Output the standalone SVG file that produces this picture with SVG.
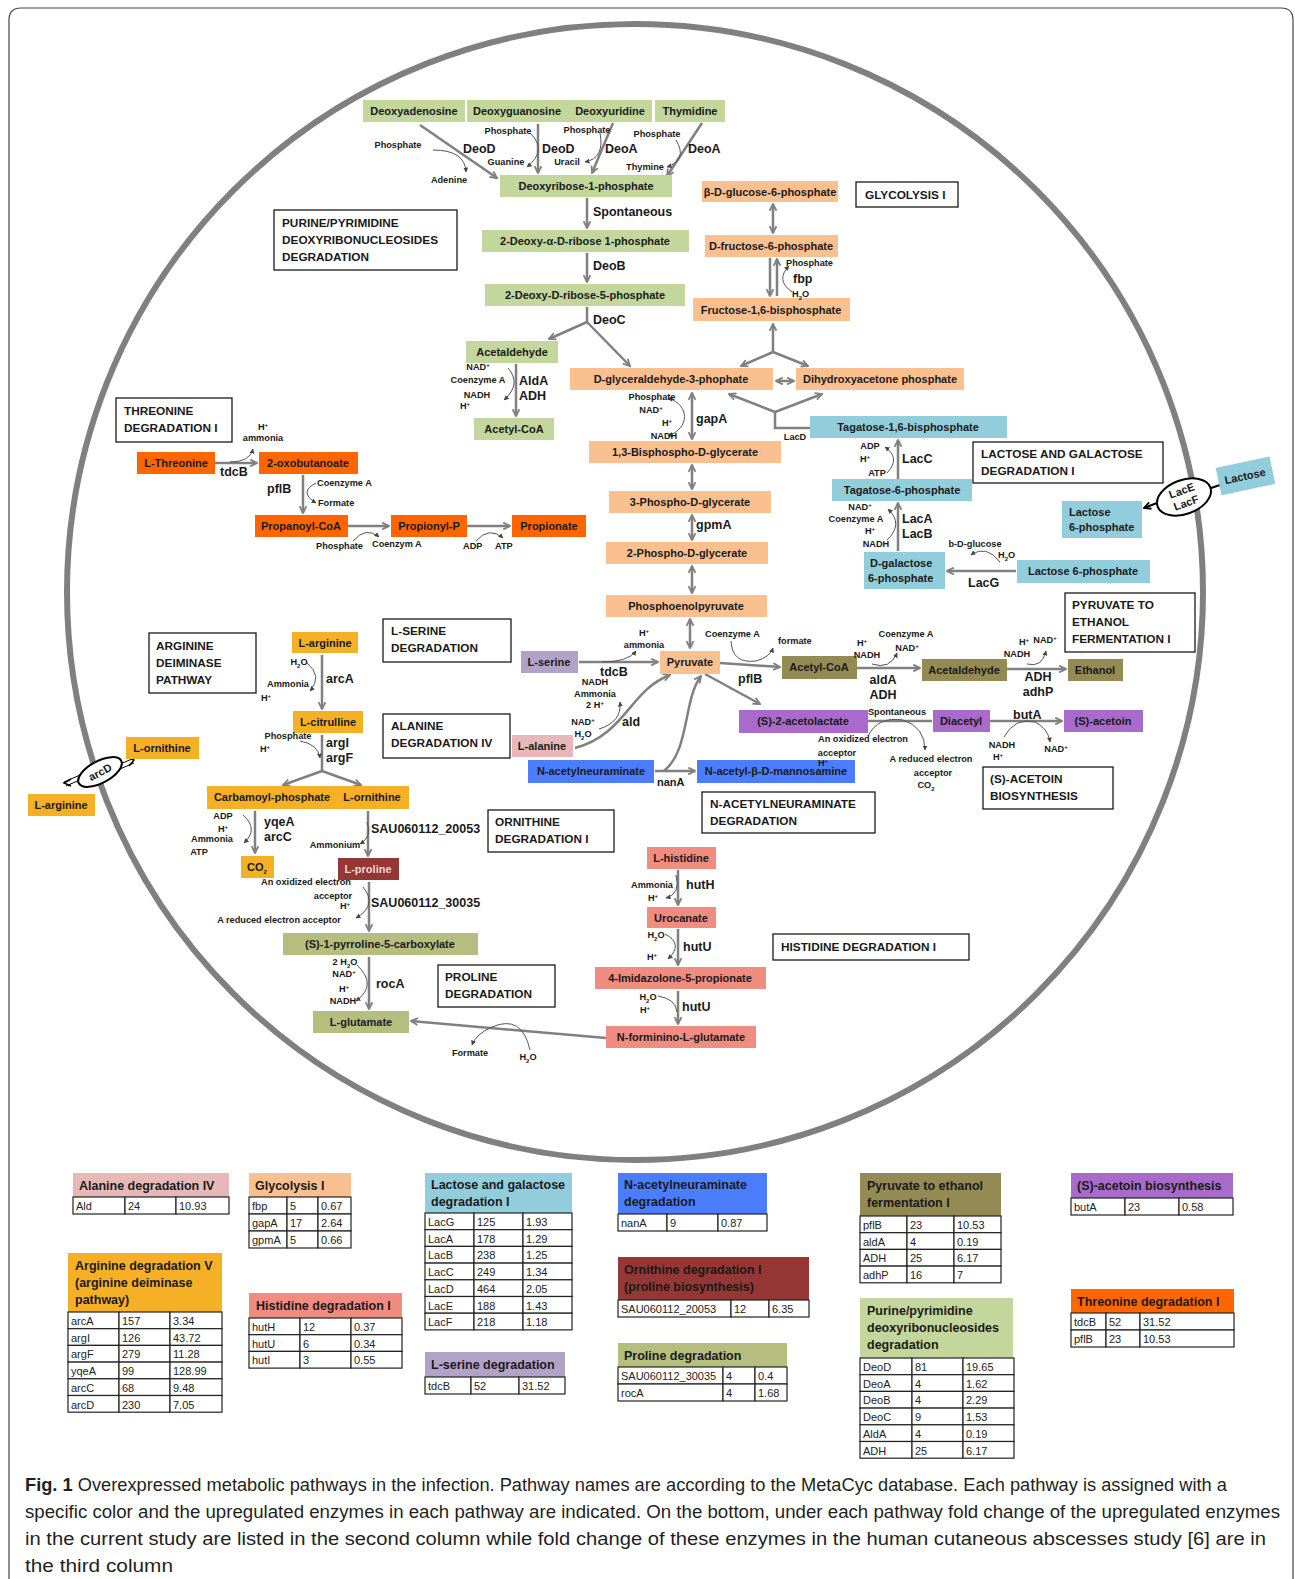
<svg xmlns="http://www.w3.org/2000/svg" width="1295" height="1579" viewBox="0 0 1295 1579">
<defs>
<marker id="a" viewBox="0 0 10 10" refX="8.5" refY="5" markerWidth="9" markerHeight="9" markerUnits="userSpaceOnUse" orient="auto-start-reverse"><path d="M1,1.2 L8.5,5 L1,8.8" fill="none" stroke="#808080" stroke-width="2"/></marker>
<marker id="s" viewBox="0 0 10 10" refX="9" refY="5" markerWidth="5" markerHeight="5" markerUnits="userSpaceOnUse" orient="auto-start-reverse"><path d="M0,0 L10,5 L0,10 z" fill="#444"/></marker>
<marker id="k" viewBox="0 0 10 10" refX="8.5" refY="5" markerWidth="9" markerHeight="9" markerUnits="userSpaceOnUse" orient="auto-start-reverse"><path d="M1,1.2 L8.5,5 L1,8.8" fill="none" stroke="#000" stroke-width="2"/></marker>
<style>
text{font-family:"Liberation Sans",Arial,sans-serif;fill:#1a1a1a}
.nt{font-weight:bold;font-size:11px;text-anchor:middle}
.nl{font-weight:bold;font-size:11px}
.en{font-weight:bold;font-size:12.5px}
.sm{font-weight:bold;font-size:9.2px;text-anchor:middle}
.sl{font-weight:bold;font-size:9.2px}
.pt{font-weight:bold;font-size:11.8px}
.pb{fill:#fff;stroke:#1a1a1a;stroke-width:1.3}
.sup{font-size:6px;baseline-shift:super}
.sub{font-size:6px;baseline-shift:sub}
.c{fill:none;stroke:#808080;stroke-width:2.5;marker-end:url(#a)}
.cb{fill:none;stroke:#808080;stroke-width:2.5;marker-end:url(#a);marker-start:url(#a)}
.l{fill:none;stroke:#808080;stroke-width:2.5}
.cu{fill:none;stroke:#555;stroke-width:1;marker-end:url(#s)}
.cu0{fill:none;stroke:#555;stroke-width:1}
.g{fill:#C3D69B}.o{fill:#FAC090}.r{fill:#FF6600}.b{fill:#92CDDC}.y{fill:#F6B026}.ol{fill:#948A54}.pu{fill:#A86BCB}.se{fill:#B3A2C7}.al{fill:#E6B9B8}.bl{fill:#4A7EFF}.h{fill:#F08C80}.pr{fill:#953735}.pg{fill:#B5BD7F}
.tc{fill:#fff;stroke:#222;stroke-width:1.2}
.th{font-weight:bold;font-size:12.5px}
.tt{font-size:11px;fill:#222}
.cap{font-size:17.5px;fill:#231F20}
</style>
</defs>
<rect width="1295" height="1579" fill="#fff"/>
<path d="M9,1600 V20 Q9,8 21,8 H1281 Q1293,8 1293,20 V1600" fill="none" stroke="#444" stroke-width="1.2"/>
<circle cx="635" cy="592" r="568" fill="none" stroke="#808080" stroke-width="6"/>

<g id="connectors">
<path class="c" d="M420,125L497,178"/>
<path class="c" d="M538,124V173"/>
<path class="c" d="M613,123L592,173"/>
<path class="c" d="M702,123L667,176"/>
<path class="c" d="M587,198V228"/>
<path class="c" d="M587,253V282"/>
<path class="l" d="M587,307V322"/>
<path class="c" d="M587,322L549,339"/>
<path class="c" d="M587,322L630,366"/>
<path class="c" d="M516,364V416"/>
<path class="cb" d="M773,204V233"/>
<path class="c" d="M770,258V296"/>
<path class="c" d="M777,296V259"/>
<path class="c" d="M773,352V324"/>
<path class="c" d="M773,352L741,366"/>
<path class="c" d="M773,352L808,366"/>
<path class="cb" d="M776,381H794"/>
<path class="cb" d="M692,393V439"/>
<path class="cb" d="M692,465V489"/>
<path class="cb" d="M692,515V540"/>
<path class="cb" d="M692,566V593"/>
<path class="cb" d="M690,619V648"/>
<path class="l" d="M810,428H775V412"/>
<path class="c" d="M775,412L729,394"/>
<path class="c" d="M775,412L822,394"/>
<path class="c" d="M898,479V440"/>
<path class="c" d="M898,551V503"/>
<path class="c" d="M1016,571H947"/>
<path class="c" d="M215,463H257"/>
<path class="c" d="M303,475V513"/>
<path class="c" d="M348,526H389"/>
<path class="c" d="M467,526H510"/>
<path class="c" d="M579,662H658"/>
<path class="c" d="M720,663L780,667"/>
<path class="c" d="M857,668H920"/>
<path class="c" d="M1007,669H1066"/>
<path class="c" d="M705,674L760,704"/>
<path class="l" d="M868,721H932"/>
<path class="c" d="M990,721H1062"/>
<path class="c" d="M655,771H695"/>
<path class="c" d="M575,748C625,735 630,690 670,675"/>
<path class="c" d="M664,771C690,750 683,700 701,676"/>
<path class="c" d="M322,655V709"/>
<path class="l" d="M322,735V771"/>
<path class="c" d="M322,771L283,785"/>
<path class="c" d="M322,771L361,785"/>
<path class="c" d="M255,811V853"/>
<path class="c" d="M368,811V856"/>
<path class="c" d="M369,882V931"/>
<path class="c" d="M369,957V1009"/>
<path class="c" d="M606,1038L411,1021"/>
<path class="c" d="M678,870V905"/>
<path class="c" d="M678,929V965"/>
<path class="c" d="M678,991V1024"/>
<path class="cu" d="M433,150Q465,150 466,172"/>
<path class="cu" d="M530,133Q548,150 527,167"/>
<path class="cu" d="M600,133Q605,158 585,162"/>
<path class="cu" d="M676,140Q688,160 667,167"/>
<path class="cu" d="M508,368Q522,384 504,400"/>
<path class="cu" d="M792,292Q775,280 789,266"/>
<path class="cu" d="M668,398C690,405 690,428 668,436" marker-start="url(#s)"/>
<path class="cu" d="M230,462Q250,462 253,449"/>
<path class="cu" d="M316,483Q298,492 316,503"/>
<path class="cu" d="M353,541Q366,526 379,537"/>
<path class="cu" d="M476,541Q489,526 503,538"/>
<path class="cu" d="M887,473Q901,458 885,447"/>
<path class="cu" d="M887,540Q904,524 888,509"/>
<path class="cu" d="M1000,562Q986,544 971,555"/>
<path class="cu" d="M602,662Q628,662 636,651"/>
<path class="cu" d="M731,641Q732,664 756,661Q770,657 773,648"/>
<path class="cu" d="M872,664Q890,670 897,653"/>
<path class="cu" d="M1027,664Q1042,668 1046,651"/>
<path class="cu" d="M868,736Q878,716 903,720Q925,727 925,750"/>
<path class="cu" d="M1004,737Q1015,717 1035,722Q1048,728 1050,742"/>
<path class="cu" d="M599,729Q622,722 620,702"/>
<path class="cu" d="M307,663Q323,676 310,691"/>
<path class="cu" d="M300,741Q318,744 320,758"/>
<path class="cu" d="M243,815Q259,829 244,843"/>
<path class="cu" d="M367,822Q373,836 360,844"/>
<path class="cu" d="M363,887Q378,905 356,918"/>
<path class="cu" d="M357,965Q378,985 356,1001"/>
<path class="cu" d="M530,1050Q522,1014 492,1027Q476,1034 472,1045"/>
<path class="cu" d="M676,875Q681,894 666,898"/>
<path class="cu" d="M665,934Q684,944 668,959"/>
<path class="cu0" d="M658,996Q676,999 677,1012"/>
<path d="M1157,503L1144,508" fill="none" stroke="#000" stroke-width="2" marker-end="url(#k)"/>
<path d="M1211,488L1220,485" fill="none" stroke="#000" stroke-width="2"/>
<path d="M82,779L66,786M80,775L64,782" fill="none" stroke="#000" stroke-width="1"/>
<path d="M71,779L64,783L71,786" fill="none" stroke="#000" stroke-width="1.5"/>
<path d="M118,765L132,759M120,769L134,763" fill="none" stroke="#000" stroke-width="1"/>
<path d="M127,757L134,760L129,766" fill="none" stroke="#000" stroke-width="1.5"/>
</g>

<g id="n-deoxyadenosine"><rect class="g" x="363" y="100" width="102" height="22"/><text class="nt" x="414" y="115">Deoxyadenosine</text></g>
<g id="n-deoxyguanosine-deoxyuridine"><rect class="g" x="467" y="100" width="185" height="22"/><text class="nt" x="517" y="115">Deoxyguanosine</text><text class="nt" x="610" y="115">Deoxyuridine</text></g>
<g id="n-thymidine"><rect class="g" x="655" y="100" width="70" height="22"/><text class="nt" x="690" y="115">Thymidine</text></g>
<g id="n-deoxyribose-1p"><rect class="g" x="500" y="175" width="172" height="22"/><text class="nt" x="586" y="190">Deoxyribose-1-phosphate</text></g>
<g id="n-deoxy-alpha"><rect class="g" x="482" y="230" width="207" height="22"/><text class="nt" x="585" y="245">2-Deoxy-α-D-ribose 1-phosphate</text></g>
<g id="n-deoxy-5p"><rect class="g" x="485" y="284" width="200" height="22"/><text class="nt" x="585" y="299">2-Deoxy-D-ribose-5-phosphate</text></g>
<g id="n-acetaldehyde-g"><rect class="g" x="466" y="341" width="92" height="22"/><text class="nt" x="512" y="356">Acetaldehyde</text></g>
<g id="n-acetylcoa-g"><rect class="g" x="474" y="418" width="80" height="22"/><text class="nt" x="514" y="433">Acetyl-CoA</text></g>

<g id="n-bglucose6p"><rect class="o" x="702" y="181" width="136" height="21"/><text class="nt" x="770" y="195.5">β-D-glucose-6-phosphate</text></g>
<g id="n-f6p"><rect class="o" x="705" y="235" width="133" height="22"/><text class="nt" x="771" y="250">D-fructose-6-phosphate</text></g>
<g id="n-f16bp"><rect class="o" x="693" y="298" width="157" height="23"/><text class="nt" x="771" y="313.5">Fructose-1,6-bisphosphate</text></g>
<g id="n-gap"><rect class="o" x="570" y="368" width="203" height="22"/><text class="nt" x="671" y="383">D-glyceraldehyde-3-phophate</text></g>
<g id="n-dhap"><rect class="o" x="796" y="368" width="168" height="22"/><text class="nt" x="880" y="383">Dihydroxyacetone phosphate</text></g>
<g id="n-13bpg"><rect class="o" x="589" y="441" width="192" height="22"/><text class="nt" x="685" y="456">1,3-Bisphospho-D-glycerate</text></g>
<g id="n-3pg"><rect class="o" x="609" y="491" width="162" height="22"/><text class="nt" x="690" y="506">3-Phospho-D-glycerate</text></g>
<g id="n-2pg"><rect class="o" x="606" y="542" width="162" height="22"/><text class="nt" x="687" y="557">2-Phospho-D-glycerate</text></g>
<g id="n-pep"><rect class="o" x="606" y="595" width="161" height="22"/><text class="nt" x="686" y="610">Phosphoenolpyruvate</text></g>
<g id="n-pyruvate"><rect class="o" x="660" y="651" width="60" height="23"/><text class="nt" x="690" y="666">Pyruvate</text></g>

<g id="n-lthreonine"><rect class="r" x="137" y="452" width="78" height="22"/><text class="nt" x="176" y="467">L-Threonine</text></g>
<g id="n-2oxobutanoate"><rect class="r" x="259" y="452" width="99" height="22"/><text class="nt" x="308" y="467">2-oxobutanoate</text></g>
<g id="n-propanoylcoa"><rect class="r" x="255" y="515" width="93" height="22"/><text class="nt" x="301" y="530">Propanoyl-CoA</text></g>
<g id="n-propionylp"><rect class="r" x="391" y="515" width="76" height="22"/><text class="nt" x="429" y="530">Propionyl-P</text></g>
<g id="n-propionate"><rect class="r" x="512" y="515" width="74" height="22"/><text class="nt" x="549" y="530">Propionate</text></g>

<g id="n-tagatose16bp"><rect class="b" x="810" y="416" width="197" height="22"/><text class="nt" x="908" y="431">Tagatose-1,6-bisphosphate</text></g>
<g id="n-tagatose6p"><rect class="b" x="832" y="479" width="140" height="22"/><text class="nt" x="902" y="494">Tagatose-6-phosphate</text></g>
<g id="n-dgalactose6p"><rect class="b" x="864" y="552" width="81" height="37"/><text class="nl" x="870" y="567">D-galactose</text><text class="nl" x="868" y="582">6-phosphate</text></g>
<g id="n-lactose6p"><rect class="b" x="1017" y="560" width="133" height="23"/><text class="nt" x="1083" y="575">Lactose 6-phosphate</text></g>
<g id="n-lactose6p-out"><rect class="b" x="1062" y="501" width="80" height="37"/><text class="nl" x="1069" y="516">Lactose</text><text class="nl" x="1069" y="531">6-phosphate</text></g>
<g id="n-lactose" transform="rotate(-12 1245 476)"><rect class="b" x="1218" y="462" width="55" height="28"/><text class="nt" x="1245" y="480">Lactose</text></g>
<g id="n-lacef" transform="rotate(-20 1184 497)"><ellipse cx="1184" cy="497" rx="28" ry="17" fill="#fff" stroke="#000" stroke-width="2"/><text class="nt" x="1184" y="494">LacE</text><text class="nt" x="1184" y="507">LacF</text></g>

<g id="n-lserine"><rect class="se" x="521" y="651" width="57" height="22"/><text class="nt" x="549" y="666">L-serine</text></g>
<g id="n-acetylcoa"><rect class="ol" x="782" y="656" width="75" height="23"/><text class="nt" x="819" y="671">Acetyl-CoA</text></g>
<g id="n-acetaldehyde"><rect class="ol" x="922" y="659" width="85" height="22"/><text class="nt" x="964" y="674">Acetaldehyde</text></g>
<g id="n-ethanol"><rect class="ol" x="1068" y="659" width="55" height="22"/><text class="nt" x="1095" y="674">Ethanol</text></g>
<g id="n-acetolactate"><rect class="pu" x="739" y="710" width="129" height="23"/><text class="nt" x="803" y="725">(S)-2-acetolactate</text></g>
<g id="n-diacetyl"><rect class="pu" x="933" y="710" width="57" height="22"/><text class="nt" x="961" y="725">Diacetyl</text></g>
<g id="n-acetoin"><rect class="pu" x="1064" y="710" width="79" height="22"/><text class="nt" x="1103" y="725">(S)-acetoin</text></g>
<g id="n-lalanine"><rect class="al" x="512" y="735" width="61" height="22"/><text class="nt" x="542" y="750">L-alanine</text></g>
<g id="n-nacetylneuraminate"><rect class="bl" x="528" y="760" width="126" height="23"/><text class="nt" x="591" y="775">N-acetylneuraminate</text></g>
<g id="n-mannosamine"><rect class="bl" x="697" y="760" width="158" height="23"/><text class="nt" x="776" y="775">N-acetyl-β-D-mannosamine</text></g>

<g id="n-larginine"><rect class="y" x="292" y="632" width="66" height="21"/><text class="nt" x="325" y="646.5">L-arginine</text></g>
<g id="n-lcitrulline"><rect class="y" x="293" y="711" width="70" height="22"/><text class="nt" x="328" y="726">L-citrulline</text></g>
<g id="n-carbamoyl-ornithine"><rect class="y" x="207" y="786" width="202" height="23"/><text class="nt" x="272" y="801">Carbamoyl-phosphate</text><text class="nt" x="372" y="801">L-ornithine</text></g>
<g id="n-co2"><rect class="y" x="241" y="856" width="33" height="22"/><text class="nt" x="257" y="871">CO<tspan class="sub">2</tspan></text></g>
<g id="n-lornithine-out"><rect class="y" x="126" y="737" width="73" height="22"/><text class="nt" x="162" y="752">L-ornithine</text></g>
<g id="n-larginine-out"><rect class="y" x="28" y="794" width="67" height="22"/><text class="nt" x="61" y="809">L-arginine</text></g>
<g id="n-arcd" transform="rotate(-28 100 772)"><ellipse cx="100" cy="772" rx="24" ry="11" fill="#fff" stroke="#000" stroke-width="2"/><text class="nt" x="100" y="776">arcD</text></g>
<g id="n-lproline"><rect class="pr" x="338" y="858" width="61" height="22"/><text class="nt" x="368" y="873" style="fill:#F2D6D4">L-proline</text></g>
<g id="n-pyrroline"><rect class="pg" x="283" y="933" width="195" height="22"/><text class="nt" x="380" y="948">(S)-1-pyrroline-5-carboxylate</text></g>
<g id="n-lglutamate"><rect class="pg" x="313" y="1011" width="96" height="22"/><text class="nt" x="361" y="1026">L-glutamate</text></g>

<g id="n-lhistidine"><rect class="h" x="647" y="847" width="69" height="22"/><text class="nt" x="681" y="862">L-histidine</text></g>
<g id="n-urocanate"><rect class="h" x="647" y="907" width="69" height="21"/><text class="nt" x="681" y="921.5">Urocanate</text></g>
<g id="n-imidazolone"><rect class="h" x="595" y="967" width="171" height="22"/><text class="nt" x="680" y="982">4-Imidazolone-5-propionate</text></g>
<g id="n-forminino"><rect class="h" x="606" y="1026" width="150" height="22"/><text class="nt" x="681" y="1041">N-forminino-L-glutamate</text></g>

<g id="p-purine"><rect class="pb" x="274" y="210" width="183" height="60"/><text class="pt" x="282" y="227">PURINE/PYRIMIDINE</text><text class="pt" x="282" y="244">DEOXYRIBONUCLEOSIDES</text><text class="pt" x="282" y="261">DEGRADATION</text></g>
<g id="p-glycolysis"><rect class="pb" x="856" y="182" width="102" height="25"/><text class="pt" x="865" y="199">GLYCOLYSIS I</text></g>
<g id="p-threonine"><rect class="pb" x="116" y="398" width="116" height="44"/><text class="pt" x="124" y="415">THREONINE</text><text class="pt" x="124" y="432">DEGRADATION I</text></g>
<g id="p-lactose"><rect class="pb" x="973" y="442" width="190" height="41"/><text class="pt" x="981" y="458">LACTOSE AND GALACTOSE</text><text class="pt" x="981" y="475">DEGRADATION I</text></g>
<g id="p-pyruvate"><rect class="pb" x="1065" y="593" width="130" height="59"/><text class="pt" x="1072" y="609">PYRUVATE TO</text><text class="pt" x="1072" y="626">ETHANOL</text><text class="pt" x="1072" y="643">FERMENTATION I</text></g>
<g id="p-lserine"><rect class="pb" x="383" y="619" width="128" height="43"/><text class="pt" x="391" y="635">L-SERINE</text><text class="pt" x="391" y="652">DEGRADATION</text></g>
<g id="p-arginine"><rect class="pb" x="149" y="633" width="107" height="60"/><text class="pt" x="156" y="650">ARGININE</text><text class="pt" x="156" y="667">DEIMINASE</text><text class="pt" x="156" y="684">PATHWAY</text></g>
<g id="p-alanine"><rect class="pb" x="383" y="714" width="127" height="44"/><text class="pt" x="391" y="730">ALANINE</text><text class="pt" x="391" y="747">DEGRADATION IV</text></g>
<g id="p-nacetyl"><rect class="pb" x="702" y="792" width="173" height="41"/><text class="pt" x="710" y="808">N-ACETYLNEURAMINATE</text><text class="pt" x="710" y="825">DEGRADATION</text></g>
<g id="p-acetoin"><rect class="pb" x="983" y="767" width="130" height="42"/><text class="pt" x="990" y="783">(S)-ACETOIN</text><text class="pt" x="990" y="800">BIOSYNTHESIS</text></g>
<g id="p-ornithine"><rect class="pb" x="488" y="810" width="126" height="42"/><text class="pt" x="495" y="826">ORNITHINE</text><text class="pt" x="495" y="843">DEGRADATION I</text></g>
<g id="p-proline"><rect class="pb" x="438" y="965" width="117" height="42"/><text class="pt" x="445" y="981">PROLINE</text><text class="pt" x="445" y="998">DEGRADATION</text></g>
<g id="p-histidine"><rect class="pb" x="773" y="934" width="196" height="26"/><text class="pt" x="781" y="951">HISTIDINE DEGRADATION I</text></g>

<g id="labels">
<text class="sm" x="398" y="148">Phosphate</text>
<text class="en" x="463" y="153">DeoD</text>
<text class="sm" x="449" y="183">Adenine</text>
<text class="sm" x="508" y="134">Phosphate</text>
<text class="en" x="542" y="153">DeoD</text>
<text class="sm" x="506" y="165">Guanine</text>
<text class="sm" x="587" y="133">Phosphate</text>
<text class="en" x="605" y="153">DeoA</text>
<text class="sm" x="567" y="165">Uracil</text>
<text class="sm" x="657" y="137">Phosphate</text>
<text class="en" x="688" y="153">DeoA</text>
<text class="sm" x="645" y="170">Thymine</text>
<text class="en" x="593" y="216">Spontaneous</text>
<text class="en" x="593" y="270">DeoB</text>
<text class="en" x="593" y="324">DeoC</text>
<text class="sl" x="786" y="266">Phosphate</text>
<text class="en" x="793" y="283">fbp</text>
<text class="sl" x="792" y="297">H<tspan class="sub">2</tspan>O</text>
<text class="sm" x="652" y="400">Phosphate</text>
<text class="sm" x="651" y="413">NAD<tspan class="sup">+</tspan></text>
<text class="sm" x="667" y="426">H<tspan class="sup">+</tspan></text>
<text class="sm" x="664" y="439">NADH</text>
<text class="en" x="696" y="423">gapA</text>
<text class="en" x="696" y="529">gpmA</text>
<text class="sm" x="795" y="440">LacD</text>
<text class="sm" x="263" y="430">H<tspan class="sup">+</tspan></text>
<text class="sm" x="263" y="441">ammonia</text>
<text class="en" x="220" y="476">tdcB</text>
<text class="en" x="267" y="493">pflB</text>
<text class="sl" x="317" y="486">Coenzyme A</text>
<text class="sl" x="318" y="506">Formate</text>
<text class="sl" x="316" y="549">Phosphate</text>
<text class="sl" x="372" y="547">Coenzym A</text>
<text class="sl" x="463" y="549">ADP</text>
<text class="sl" x="495" y="549">ATP</text>
<text class="sm" x="478" y="370">NAD<tspan class="sup">+</tspan></text>
<text class="sm" x="478" y="383">Coenzyme A</text>
<text class="sm" x="477" y="398">NADH</text>
<text class="sm" x="465" y="409">H<tspan class="sup">+</tspan></text>
<text class="en" x="519" y="385">AldA</text>
<text class="en" x="519" y="400">ADH</text>
<text class="sm" x="870" y="449">ADP</text>
<text class="sm" x="865" y="462">H<tspan class="sup">+</tspan></text>
<text class="sm" x="877" y="476">ATP</text>
<text class="en" x="902" y="463">LacC</text>
<text class="sm" x="860" y="510">NAD<tspan class="sup">+</tspan></text>
<text class="sm" x="856" y="522">Coenzyme A</text>
<text class="sm" x="870" y="534">H<tspan class="sup">+</tspan></text>
<text class="sm" x="876" y="547">NADH</text>
<text class="en" x="902" y="523">LacA</text>
<text class="en" x="902" y="538">LacB</text>
<text class="sm" x="975" y="547">b-D-glucose</text>
<text class="sl" x="998" y="558">H<tspan class="sub">2</tspan>O</text>
<text class="en" x="968" y="587">LacG</text>
<text class="sm" x="644" y="636">H<tspan class="sup">+</tspan></text>
<text class="sm" x="644" y="648">ammonia</text>
<text class="en" x="600" y="676">tdcB</text>
<text class="sl" x="705" y="637">Coenzyme A</text>
<text class="sl" x="778" y="644">formate</text>
<text class="en" x="738" y="683">pflB</text>
<text class="sm" x="862" y="646">H<tspan class="sup">+</tspan></text>
<text class="sm" x="867" y="658">NADH</text>
<text class="sm" x="906" y="637">Coenzyme A</text>
<text class="sm" x="907" y="651">NAD<tspan class="sup">+</tspan></text>
<text class="en" x="883" y="684" text-anchor="middle">aldA</text>
<text class="en" x="883" y="699" text-anchor="middle">ADH</text>
<text class="sm" x="1024" y="645">H<tspan class="sup">+</tspan></text>
<text class="sm" x="1045" y="643">NAD<tspan class="sup">+</tspan></text>
<text class="sm" x="1017" y="657">NADH</text>
<text class="en" x="1038" y="681" text-anchor="middle">ADH</text>
<text class="en" x="1038" y="696" text-anchor="middle">adhP</text>
<text class="sm" x="897" y="715">Spontaneous</text>
<text class="sm" x="863" y="742">An oxidized electron</text>
<text class="sm" x="837" y="756">acceptor</text>
<text class="sm" x="823" y="766">H<tspan class="sup">+</tspan></text>
<text class="sm" x="931" y="762">A reduced electron</text>
<text class="sm" x="933" y="776">acceptor</text>
<text class="sm" x="926" y="788">CO<tspan class="sub">2</tspan></text>
<text class="en" x="1013" y="719">butA</text>
<text class="sm" x="1002" y="748">NADH</text>
<text class="sm" x="998" y="760">H<tspan class="sup">+</tspan></text>
<text class="sm" x="1056" y="752">NAD<tspan class="sup">+</tspan></text>
<text class="sm" x="595" y="685">NADH</text>
<text class="sm" x="595" y="697">Ammonia</text>
<text class="sm" x="595" y="708">2 H<tspan class="sup">+</tspan></text>
<text class="sm" x="583" y="725">NAD<tspan class="sup">+</tspan></text>
<text class="sm" x="583" y="737">H<tspan class="sub">2</tspan>O</text>
<text class="en" x="622" y="726">ald</text>
<text class="en" x="657" y="786" style="font-size:11px">nanA</text>
<text class="sm" x="299" y="665">H<tspan class="sub">2</tspan>O</text>
<text class="sm" x="288" y="687">Ammonia</text>
<text class="sm" x="266" y="701">H<tspan class="sup">+</tspan></text>
<text class="en" x="326" y="683">arcA</text>
<text class="sm" x="288" y="739">Phosphate</text>
<text class="sm" x="265" y="752">H<tspan class="sup">+</tspan></text>
<text class="en" x="326" y="747">argI</text>
<text class="en" x="326" y="762">argF</text>
<text class="sm" x="223" y="819">ADP</text>
<text class="sm" x="223" y="832">H<tspan class="sup">+</tspan></text>
<text class="sm" x="212" y="842">Ammonia</text>
<text class="sm" x="199" y="855">ATP</text>
<text class="en" x="264" y="826">yqeA</text>
<text class="en" x="264" y="841">arcC</text>
<text class="en" x="371" y="833">SAU060112_20053</text>
<text class="sm" x="335" y="848">Ammonium</text>
<text class="sm" x="306" y="885">An oxidized electron</text>
<text class="sm" x="333" y="899">acceptor</text>
<text class="sm" x="345" y="909">H<tspan class="sup">+</tspan></text>
<text class="sm" x="279" y="923">A reduced electron acceptor</text>
<text class="en" x="371" y="907">SAU060112_30035</text>
<text class="sm" x="345" y="965">2 H<tspan class="sub">2</tspan>O</text>
<text class="sm" x="344" y="977">NAD<tspan class="sup">+</tspan></text>
<text class="sm" x="344" y="992">H<tspan class="sup">+</tspan></text>
<text class="sm" x="343" y="1004">NADH</text>
<text class="en" x="376" y="988">rocA</text>
<text class="sm" x="470" y="1056">Formate</text>
<text class="sm" x="528" y="1060">H<tspan class="sub">2</tspan>O</text>
<text class="sm" x="652" y="888">Ammonia</text>
<text class="sm" x="653" y="901">H<tspan class="sup">+</tspan></text>
<text class="en" x="686" y="889">hutH</text>
<text class="sm" x="656" y="938">H<tspan class="sub">2</tspan>O</text>
<text class="sm" x="652" y="960">H<tspan class="sup">+</tspan></text>
<text class="en" x="683" y="951">hutU</text>
<text class="sm" x="648" y="1000">H<tspan class="sub">2</tspan>O</text>
<text class="sm" x="645" y="1013">H<tspan class="sup">+</tspan></text>
<text class="en" x="682" y="1011">hutU</text>
</g>

<g id="t-alanine"><rect class="al" x="73" y="1173" width="156" height="24"/><text class="th" x="79" y="1190">Alanine degradation IV</text>
<rect class="tc" x="73" y="1197" width="52" height="17"/><rect class="tc" x="125" y="1197" width="51" height="17"/><rect class="tc" x="176" y="1197" width="53" height="17"/>
<text class="tt" x="76" y="1210">Ald</text><text class="tt" x="128" y="1210">24</text><text class="tt" x="179" y="1210">10.93</text></g>

<g id="t-glycolysis"><rect class="o" x="249" y="1173" width="102" height="24"/><text class="th" x="255" y="1190">Glycolysis I</text>
<rect class="tc" x="249" y="1197" width="38" height="17"/><rect class="tc" x="287" y="1197" width="31" height="17"/><rect class="tc" x="318" y="1197" width="33" height="17"/>
<rect class="tc" x="249" y="1214" width="38" height="17"/><rect class="tc" x="287" y="1214" width="31" height="17"/><rect class="tc" x="318" y="1214" width="33" height="17"/>
<rect class="tc" x="249" y="1231" width="38" height="17"/><rect class="tc" x="287" y="1231" width="31" height="17"/><rect class="tc" x="318" y="1231" width="33" height="17"/>
<text class="tt" x="252" y="1210">fbp</text><text class="tt" x="290" y="1210">5</text><text class="tt" x="321" y="1210">0.67</text>
<text class="tt" x="252" y="1227">gapA</text><text class="tt" x="290" y="1227">17</text><text class="tt" x="321" y="1227">2.64</text>
<text class="tt" x="252" y="1244">gpmA</text><text class="tt" x="290" y="1244">5</text><text class="tt" x="321" y="1244">0.66</text></g>

<g id="t-arginine"><rect class="y" x="68" y="1253" width="154" height="59"/><text class="th" x="75" y="1270">Arginine degradation V</text><text class="th" x="75" y="1287">(arginine deiminase</text><text class="th" x="75" y="1304">pathway)</text>
<rect class="tc" x="68" y="1312" width="51" height="16.7"/><rect class="tc" x="119" y="1312" width="51" height="16.7"/><rect class="tc" x="170" y="1312" width="52" height="16.7"/>
<rect class="tc" x="68" y="1328.7" width="51" height="16.7"/><rect class="tc" x="119" y="1328.7" width="51" height="16.7"/><rect class="tc" x="170" y="1328.7" width="52" height="16.7"/>
<rect class="tc" x="68" y="1345.4" width="51" height="16.7"/><rect class="tc" x="119" y="1345.4" width="51" height="16.7"/><rect class="tc" x="170" y="1345.4" width="52" height="16.7"/>
<rect class="tc" x="68" y="1362.1" width="51" height="16.7"/><rect class="tc" x="119" y="1362.1" width="51" height="16.7"/><rect class="tc" x="170" y="1362.1" width="52" height="16.7"/>
<rect class="tc" x="68" y="1378.8" width="51" height="16.7"/><rect class="tc" x="119" y="1378.8" width="51" height="16.7"/><rect class="tc" x="170" y="1378.8" width="52" height="16.7"/>
<rect class="tc" x="68" y="1395.5" width="51" height="16.7"/><rect class="tc" x="119" y="1395.5" width="51" height="16.7"/><rect class="tc" x="170" y="1395.5" width="52" height="16.7"/>
<text class="tt" x="71" y="1325">arcA</text><text class="tt" x="122" y="1325">157</text><text class="tt" x="173" y="1325">3.34</text>
<text class="tt" x="71" y="1341.7">argI</text><text class="tt" x="122" y="1341.7">126</text><text class="tt" x="173" y="1341.7">43.72</text>
<text class="tt" x="71" y="1358.4">argF</text><text class="tt" x="122" y="1358.4">279</text><text class="tt" x="173" y="1358.4">11.28</text>
<text class="tt" x="71" y="1375.1">yqeA</text><text class="tt" x="122" y="1375.1">99</text><text class="tt" x="173" y="1375.1">128.99</text>
<text class="tt" x="71" y="1391.8">arcC</text><text class="tt" x="122" y="1391.8">68</text><text class="tt" x="173" y="1391.8">9.48</text>
<text class="tt" x="71" y="1408.5">arcD</text><text class="tt" x="122" y="1408.5">230</text><text class="tt" x="173" y="1408.5">7.05</text></g>

<g id="t-histidine"><rect class="h" x="249" y="1293" width="153" height="25"/><text class="th" x="256" y="1310">Histidine degradation I</text>
<rect class="tc" x="249" y="1318" width="51" height="16.7"/><rect class="tc" x="300" y="1318" width="51" height="16.7"/><rect class="tc" x="351" y="1318" width="51" height="16.7"/>
<rect class="tc" x="249" y="1334.7" width="51" height="16.7"/><rect class="tc" x="300" y="1334.7" width="51" height="16.7"/><rect class="tc" x="351" y="1334.7" width="51" height="16.7"/>
<rect class="tc" x="249" y="1351.4" width="51" height="16.7"/><rect class="tc" x="300" y="1351.4" width="51" height="16.7"/><rect class="tc" x="351" y="1351.4" width="51" height="16.7"/>
<text class="tt" x="252" y="1331">hutH</text><text class="tt" x="303" y="1331">12</text><text class="tt" x="354" y="1331">0.37</text>
<text class="tt" x="252" y="1347.7">hutU</text><text class="tt" x="303" y="1347.7">6</text><text class="tt" x="354" y="1347.7">0.34</text>
<text class="tt" x="252" y="1364.4">hutI</text><text class="tt" x="303" y="1364.4">3</text><text class="tt" x="354" y="1364.4">0.55</text></g>

<g id="t-lactose"><rect class="b" x="425" y="1173" width="147" height="40"/><text class="th" x="431" y="1189">Lactose and galactose</text><text class="th" x="431" y="1206">degradation I</text>
<rect class="tc" x="425" y="1213" width="49" height="16.7"/><rect class="tc" x="474" y="1213" width="49" height="16.7"/><rect class="tc" x="523" y="1213" width="49" height="16.7"/>
<rect class="tc" x="425" y="1229.7" width="49" height="16.7"/><rect class="tc" x="474" y="1229.7" width="49" height="16.7"/><rect class="tc" x="523" y="1229.7" width="49" height="16.7"/>
<rect class="tc" x="425" y="1246.4" width="49" height="16.7"/><rect class="tc" x="474" y="1246.4" width="49" height="16.7"/><rect class="tc" x="523" y="1246.4" width="49" height="16.7"/>
<rect class="tc" x="425" y="1263.1" width="49" height="16.7"/><rect class="tc" x="474" y="1263.1" width="49" height="16.7"/><rect class="tc" x="523" y="1263.1" width="49" height="16.7"/>
<rect class="tc" x="425" y="1279.8" width="49" height="16.7"/><rect class="tc" x="474" y="1279.8" width="49" height="16.7"/><rect class="tc" x="523" y="1279.8" width="49" height="16.7"/>
<rect class="tc" x="425" y="1296.5" width="49" height="16.7"/><rect class="tc" x="474" y="1296.5" width="49" height="16.7"/><rect class="tc" x="523" y="1296.5" width="49" height="16.7"/>
<rect class="tc" x="425" y="1313.2" width="49" height="16.7"/><rect class="tc" x="474" y="1313.2" width="49" height="16.7"/><rect class="tc" x="523" y="1313.2" width="49" height="16.7"/>
<text class="tt" x="428" y="1226">LacG</text><text class="tt" x="477" y="1226">125</text><text class="tt" x="526" y="1226">1.93</text>
<text class="tt" x="428" y="1242.7">LacA</text><text class="tt" x="477" y="1242.7">178</text><text class="tt" x="526" y="1242.7">1.29</text>
<text class="tt" x="428" y="1259.4">LacB</text><text class="tt" x="477" y="1259.4">238</text><text class="tt" x="526" y="1259.4">1.25</text>
<text class="tt" x="428" y="1276.1">LacC</text><text class="tt" x="477" y="1276.1">249</text><text class="tt" x="526" y="1276.1">1.34</text>
<text class="tt" x="428" y="1292.8">LacD</text><text class="tt" x="477" y="1292.8">464</text><text class="tt" x="526" y="1292.8">2.05</text>
<text class="tt" x="428" y="1309.5">LacE</text><text class="tt" x="477" y="1309.5">188</text><text class="tt" x="526" y="1309.5">1.43</text>
<text class="tt" x="428" y="1326.2">LacF</text><text class="tt" x="477" y="1326.2">218</text><text class="tt" x="526" y="1326.2">1.18</text></g>

<g id="t-lserine"><rect class="se" x="425" y="1352" width="140" height="25"/><text class="th" x="431" y="1369">L-serine degradation</text>
<rect class="tc" x="425" y="1377" width="46" height="17"/><rect class="tc" x="471" y="1377" width="48" height="17"/><rect class="tc" x="519" y="1377" width="46" height="17"/>
<text class="tt" x="428" y="1390">tdcB</text><text class="tt" x="474" y="1390">52</text><text class="tt" x="522" y="1390">31.52</text></g>

<g id="t-nacetyl"><rect class="bl" x="618" y="1173" width="149" height="41"/><text class="th" x="624" y="1189">N-acetylneuraminate</text><text class="th" x="624" y="1206">degradation</text>
<rect class="tc" x="618" y="1214" width="49" height="17"/><rect class="tc" x="667" y="1214" width="51" height="17"/><rect class="tc" x="718" y="1214" width="49" height="17"/>
<text class="tt" x="621" y="1227">nanA</text><text class="tt" x="670" y="1227">9</text><text class="tt" x="721" y="1227">0.87</text></g>

<g id="t-ornithine"><rect class="pr" x="618" y="1257" width="191" height="43"/><text class="th" x="624" y="1274">Ornithine degradation I</text><text class="th" x="624" y="1291">(proline biosynthesis)</text>
<rect class="tc" x="618" y="1300" width="113" height="17"/><rect class="tc" x="731" y="1300" width="38" height="17"/><rect class="tc" x="769" y="1300" width="40" height="17"/>
<text class="tt" x="621" y="1313">SAU060112_20053</text><text class="tt" x="734" y="1313">12</text><text class="tt" x="772" y="1313">6.35</text></g>

<g id="t-proline"><rect class="pg" x="618" y="1343" width="169" height="24"/><text class="th" x="624" y="1360">Proline degradation</text>
<rect class="tc" x="618" y="1367" width="105" height="17"/><rect class="tc" x="723" y="1367" width="32" height="17"/><rect class="tc" x="755" y="1367" width="32" height="17"/>
<rect class="tc" x="618" y="1384" width="105" height="17"/><rect class="tc" x="723" y="1384" width="32" height="17"/><rect class="tc" x="755" y="1384" width="32" height="17"/>
<text class="tt" x="621" y="1380">SAU060112_30035</text><text class="tt" x="726" y="1380">4</text><text class="tt" x="758" y="1380">0.4</text>
<text class="tt" x="621" y="1397">rocA</text><text class="tt" x="726" y="1397">4</text><text class="tt" x="758" y="1397">1.68</text></g>

<g id="t-pyruvate"><rect class="ol" x="860" y="1173" width="141" height="43"/><text class="th" x="867" y="1190">Pyruvate to ethanol</text><text class="th" x="867" y="1207">fermentation I</text>
<rect class="tc" x="860" y="1216" width="47" height="16.7"/><rect class="tc" x="907" y="1216" width="47" height="16.7"/><rect class="tc" x="954" y="1216" width="47" height="16.7"/>
<rect class="tc" x="860" y="1232.7" width="47" height="16.7"/><rect class="tc" x="907" y="1232.7" width="47" height="16.7"/><rect class="tc" x="954" y="1232.7" width="47" height="16.7"/>
<rect class="tc" x="860" y="1249.4" width="47" height="16.7"/><rect class="tc" x="907" y="1249.4" width="47" height="16.7"/><rect class="tc" x="954" y="1249.4" width="47" height="16.7"/>
<rect class="tc" x="860" y="1266.1" width="47" height="16.7"/><rect class="tc" x="907" y="1266.1" width="47" height="16.7"/><rect class="tc" x="954" y="1266.1" width="47" height="16.7"/>
<text class="tt" x="863" y="1229">pflB</text><text class="tt" x="910" y="1229">23</text><text class="tt" x="957" y="1229">10.53</text>
<text class="tt" x="863" y="1245.7">aldA</text><text class="tt" x="910" y="1245.7">4</text><text class="tt" x="957" y="1245.7">0.19</text>
<text class="tt" x="863" y="1262.4">ADH</text><text class="tt" x="910" y="1262.4">25</text><text class="tt" x="957" y="1262.4">6.17</text>
<text class="tt" x="863" y="1279.1">adhP</text><text class="tt" x="910" y="1279.1">16</text><text class="tt" x="957" y="1279.1">7</text></g>

<g id="t-purine"><rect class="g" x="860" y="1298" width="153" height="60"/><text class="th" x="867" y="1315">Purine/pyrimidine</text><text class="th" x="867" y="1332">deoxyribonucleosides</text><text class="th" x="867" y="1349">degradation</text>
<rect class="tc" x="860" y="1358" width="52" height="16.7"/><rect class="tc" x="912" y="1358" width="51" height="16.7"/><rect class="tc" x="963" y="1358" width="51" height="16.7"/>
<rect class="tc" x="860" y="1374.7" width="52" height="16.7"/><rect class="tc" x="912" y="1374.7" width="51" height="16.7"/><rect class="tc" x="963" y="1374.7" width="51" height="16.7"/>
<rect class="tc" x="860" y="1391.4" width="52" height="16.7"/><rect class="tc" x="912" y="1391.4" width="51" height="16.7"/><rect class="tc" x="963" y="1391.4" width="51" height="16.7"/>
<rect class="tc" x="860" y="1408.1" width="52" height="16.7"/><rect class="tc" x="912" y="1408.1" width="51" height="16.7"/><rect class="tc" x="963" y="1408.1" width="51" height="16.7"/>
<rect class="tc" x="860" y="1424.8" width="52" height="16.7"/><rect class="tc" x="912" y="1424.8" width="51" height="16.7"/><rect class="tc" x="963" y="1424.8" width="51" height="16.7"/>
<rect class="tc" x="860" y="1441.5" width="52" height="16.7"/><rect class="tc" x="912" y="1441.5" width="51" height="16.7"/><rect class="tc" x="963" y="1441.5" width="51" height="16.7"/>
<text class="tt" x="863" y="1371">DeoD</text><text class="tt" x="915" y="1371">81</text><text class="tt" x="966" y="1371">19.65</text>
<text class="tt" x="863" y="1387.7">DeoA</text><text class="tt" x="915" y="1387.7">4</text><text class="tt" x="966" y="1387.7">1.62</text>
<text class="tt" x="863" y="1404.4">DeoB</text><text class="tt" x="915" y="1404.4">4</text><text class="tt" x="966" y="1404.4">2.29</text>
<text class="tt" x="863" y="1421.1">DeoC</text><text class="tt" x="915" y="1421.1">9</text><text class="tt" x="966" y="1421.1">1.53</text>
<text class="tt" x="863" y="1437.8">AldA</text><text class="tt" x="915" y="1437.8">4</text><text class="tt" x="966" y="1437.8">0.19</text>
<text class="tt" x="863" y="1454.5">ADH</text><text class="tt" x="915" y="1454.5">25</text><text class="tt" x="966" y="1454.5">6.17</text></g>

<g id="t-acetoin"><rect class="pu" x="1071" y="1173" width="162" height="25"/><text class="th" x="1077" y="1190">(S)-acetoin biosynthesis</text>
<rect class="tc" x="1071" y="1198" width="54" height="17"/><rect class="tc" x="1125" y="1198" width="54" height="17"/><rect class="tc" x="1179" y="1198" width="54" height="17"/>
<text class="tt" x="1074" y="1211">butA</text><text class="tt" x="1128" y="1211">23</text><text class="tt" x="1182" y="1211">0.58</text></g>

<g id="t-threonine"><rect class="r" x="1071" y="1289" width="163" height="24"/><text class="th" x="1077" y="1306">Threonine degradation I</text>
<rect class="tc" x="1071" y="1313" width="35" height="17"/><rect class="tc" x="1106" y="1313" width="34" height="17"/><rect class="tc" x="1140" y="1313" width="94" height="17"/>
<rect class="tc" x="1071" y="1330" width="35" height="17"/><rect class="tc" x="1106" y="1330" width="34" height="17"/><rect class="tc" x="1140" y="1330" width="94" height="17"/>
<text class="tt" x="1074" y="1326">tdcB</text><text class="tt" x="1109" y="1326">52</text><text class="tt" x="1143" y="1326">31.52</text>
<text class="tt" x="1074" y="1343">pflB</text><text class="tt" x="1109" y="1343">23</text><text class="tt" x="1143" y="1343">10.53</text></g>

<g id="caption">
<text class="cap" x="25" y="1491" textLength="1202" lengthAdjust="spacingAndGlyphs"><tspan font-weight="bold">Fig. 1</tspan> Overexpressed metabolic pathways in the infection. Pathway names are according to the MetaCyc database. Each pathway is assigned with a</text>
<text class="cap" x="25" y="1518" textLength="1255" lengthAdjust="spacingAndGlyphs">specific color and the upregulated enzymes in each pathway are indicated. On the bottom, under each pathway fold change of the upregulated enzymes</text>
<text class="cap" x="25" y="1545" textLength="1241" lengthAdjust="spacingAndGlyphs">in the current study are listed in the second column while fold change of these enzymes in the human cutaneous abscesses study [6] are in</text>
<text class="cap" x="25" y="1572" textLength="148" lengthAdjust="spacingAndGlyphs">the third column</text>
</g>
</svg>
